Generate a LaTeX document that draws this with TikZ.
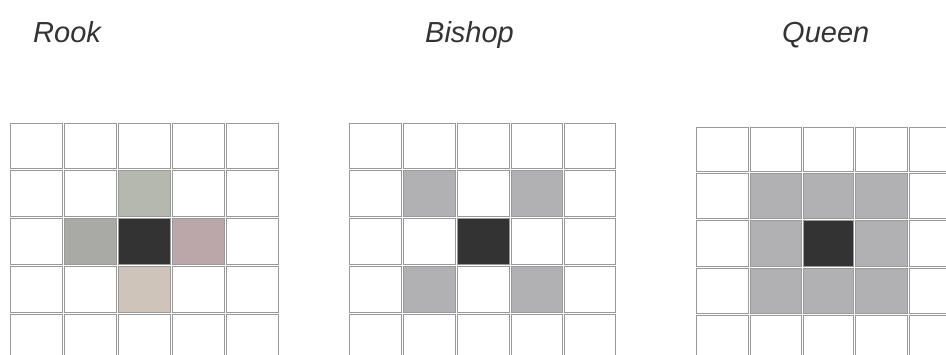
\documentclass[tikz,border=0pt]{standalone}
\usepackage{fontspec}
\newfontfamily\lblfont{Liberation Sans}
\definecolor{gridline}{HTML}{999999}
\definecolor{rtop}{HTML}{B5B8AE}
\definecolor{rleft}{HTML}{A9AAA5}
\definecolor{rright}{HTML}{BBA6A9}
\definecolor{rbottom}{HTML}{CFC4BA}
\definecolor{centre}{HTML}{333333}
\definecolor{shade}{HTML}{B1B1B4}
\tikzset{
  cell/.style={draw=gridline, line width=0.9pt},
  lbl/.style={font=\lblfont\itshape\fontsize{29}{32}\selectfont, text=black!80, anchor=base west, inner sep=0pt},
}
\newcommand{\gridsq}[5]{% x1 x2 y1 y2 fill
  \draw[cell, fill=#5] ({#1+1.05},{#3+1.05}) rectangle ({#2-1.05},{#4-1.05});}
\begin{document}
\begin{tikzpicture}[x=1pt,y=-1pt]
\useasboundingbox (0,0) rectangle (946,354);
\clip (0,0) rectangle (946,354);
% labels
\node[lbl] (rook) at (33,42) {Rook};
\node[lbl] (bishop) at (425,42) {Bishop};
\node[lbl] (queen) at (782,42) {Queen};
% Rook grid
\foreach \xa/\xb in {9/63,63/117,117/171,171/225,225/279}
  \foreach \ya/\yb in {122/169,169/217,217/265,265/313,313/361}
    {\gridsq{\xa}{\xb}{\ya}{\yb}{white}}
\gridsq{117}{171}{169}{217}{rtop}
\gridsq{63}{117}{217}{265}{rleft}
\gridsq{117}{171}{217}{265}{centre}
\gridsq{171}{225}{217}{265}{rright}
\gridsq{117}{171}{265}{313}{rbottom}
% Bishop grid
\foreach \xa/\xb in {348/402,402/456,456/510,510/563,563/616}
  \foreach \ya/\yb in {122/169,169/217,217/265,265/313,313/361}
    {\gridsq{\xa}{\xb}{\ya}{\yb}{white}}
\gridsq{402}{456}{169}{217}{shade}
\gridsq{510}{563}{169}{217}{shade}
\gridsq{456}{510}{217}{265}{centre}
\gridsq{402}{456}{265}{313}{shade}
\gridsq{510}{563}{265}{313}{shade}
% Queen grid
\foreach \xa/\xb in {695/749,749/802,802/854,854/908,908/962}
  \foreach \ya/\yb in {126/172,172/219,219/267,267/314,314/361}
    {\gridsq{\xa}{\xb}{\ya}{\yb}{white}}
\foreach \xa/\xb in {749/802,802/854,854/908}
  \foreach \ya/\yb in {172/219,219/267,267/314}
    {\gridsq{\xa}{\xb}{\ya}{\yb}{shade}}
\gridsq{802}{854}{219}{267}{centre}
\end{tikzpicture}
\end{document}
